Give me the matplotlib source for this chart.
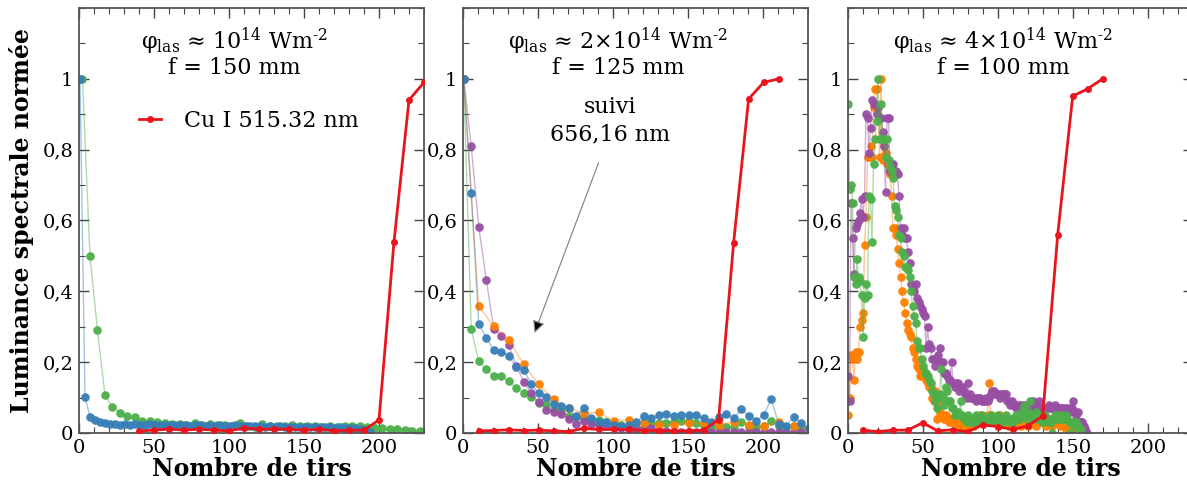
import numpy as np
import matplotlib
matplotlib.use('Agg')
import matplotlib.pyplot as plt
from matplotlib.ticker import MultipleLocator

plt.rcParams['font.family'] = 'DejaVu Serif'
plt.rcParams['mathtext.fontset'] = 'dejavuserif'

# Set1-like colours
c_red = '#e8161c'
c_blue = '#377eb8'
c_green = '#4daf4a'
c_purple = '#984ea3'
c_orange = '#ff7f00'

# ---- panel 1 : 1e14 W/m2, f = 150 mm ----
p1_blue_x = 0.67 + 3.333 * np.arange(59)
p1_blue = [1.0, 0.103, 0.044, 0.037, 0.032, 0.027, 0.025, 0.026, 0.024, 0.026,
           0.024, 0.025, 0.024, 0.023, 0.025, 0.024, 0.023, 0.024, 0.022, 0.023,
           0.022, 0.023, 0.021, 0.022, 0.023, 0.021, 0.022, 0.021, 0.022, 0.020,
           0.021, 0.022, 0.020, 0.019, 0.020, 0.019, 0.020, 0.018, 0.019, 0.018,
           0.019, 0.018, 0.017, 0.018, 0.017, 0.018, 0.017, 0.016, 0.017, 0.016,
           0.016, 0.015, 0.016, 0.015, 0.014, 0.013, 0.011, 0.008, 0.003]
p1_green_x = 2.3 + 5 * np.arange(46)
p1_green = [1.0, 0.5, 0.29, 0.107, 0.074, 0.056, 0.048, 0.044, 0.035, 0.033,
            0.032, 0.028, 0.025, 0.026, 0.024, 0.027, 0.022, 0.025, 0.024, 0.022,
            0.02, 0.028, 0.02, 0.018, 0.025, 0.02, 0.019, 0.02, 0.022, 0.02,
            0.019, 0.02, 0.018, 0.019, 0.018, 0.02, 0.019, 0.02, 0.017, 0.013,
            0.014, 0.010, 0.011, 0.008, 0.007, 0.007]
p1_red_x = 40 + 10 * np.arange(20)
p1_red = [0.006, 0.008, 0.011, 0.008, 0.011, 0.008, 0.006, 0.014, 0.011, 0.011,
          0.011, 0.008, 0.011, 0.006, 0.008, 0.008, 0.037, 0.54, 0.94, 0.99]

# ---- panel 2 : 2e14 W/m2, f = 125 mm ----
p2_x = 0.5 + 5 * np.arange(47)
p2_blue = [1.0, 0.677, 0.308, 0.268, 0.235, 0.23, 0.218, 0.185, 0.178, 0.138,
           0.112, 0.101, 0.081, 0.075, 0.071, 0.048, 0.072, 0.042, 0.032, 0.03,
           0.022, 0.02, 0.022, 0.032, 0.048, 0.042, 0.052, 0.053, 0.048, 0.05,
           0.052, 0.052, 0.041, 0.032, 0.046, 0.053, 0.041, 0.067, 0.048, 0.034,
           0.052, 0.095, 0.025, 0.02, 0.046, 0.027, 0.013]
p2_green = [1.0, 0.294, 0.202, 0.18, 0.16, 0.161, 0.147, 0.128, 0.113, 0.101,
            0.084, 0.081, 0.065, 0.062, 0.049, 0.045, 0.043, 0.036, 0.036, 0.031,
            0.028, 0.023, 0.02, 0.017, 0.032, 0.027, 0.027, 0.027, 0.032, 0.034,
            0.034, 0.027, 0.019, 0.015, 0.02, 0.017, 0.017, 0.032, 0.017, 0.017,
            0.019, 0.034, 0.02, 0.017, 0.019, 0.017, 0.013]
p2_purple = [1.0, 0.809, 0.582, 0.433, 0.294, 0.275, 0.249, 0.19, 0.145, 0.112,
             0.088, 0.066, 0.06, 0.053, 0.04, 0.025, 0.035, 0.025, 0.023, 0.02,
             0.016, 0.015, 0.012, 0.012, 0.013, 0.013, 0.008, 0.006, 0.004, 0.003,
             0.004, 0.003, 0.003, 0.004, 0.003, 0.003, 0.003, 0.004, 0.003, 0.003,
             0.003, 0.003, 0.003, 0.003, 0.003, 0.003, 0.003]
p2_orange_x = 0.4 + 10 * np.arange(24)
p2_orange = [1.0, 0.36, 0.301, 0.263, 0.194, 0.137, 0.095, 0.07, 0.056, 0.058,
             0.035, 0.037, 0.028, 0.024, 0.024, 0.027, 0.027, 0.024, 0.031, 0.024,
             0.019, 0.031, 0.02, 0.012]
p2_red_x = 10.4 + 10 * np.arange(21)
p2_red = [0.006, 0.007, 0.009, 0.007, 0.008, 0.006, 0.004, 0.013, 0.01, 0.01,
          0.01, 0.007, 0.007, 0.006, 0.006, 0.008, 0.038, 0.537, 0.943, 0.99, 1.0]

# ---- panel 3 : 4e14 W/m2, f = 100 mm ----
p3_purple = [0.16, 0.09, 0.65, 0.55, 0.45, 0.58, 0.59, 0.60, 0.62, 0.66,
             0.61, 0.67, 0.90, 0.89, 0.79, 0.86, 0.94, 0.93, 0.93, 0.90,
             0.92, 0.89, 0.89, 0.85, 0.81, 0.68, 0.89, 0.89, 0.74, 0.76,
             0.76, 0.73, 0.74, 0.73, 0.67, 0.58, 0.56, 0.58, 0.55, 0.55,
             0.51, 0.48, 0.42, 0.41, 0.40, 0.42, 0.38, 0.37, 0.36, 0.35,
             0.34, 0.33, 0.24, 0.30, 0.25, 0.24, 0.21, 0.21, 0.19, 0.21,
             0.22, 0.24, 0.20, 0.20, 0.17, 0.17, 0.16, 0.15, 0.15, 0.20,
             0.14, 0.13, 0.14, 0.14, 0.12, 0.13, 0.13, 0.12, 0.11, 0.10,
             0.14, 0.11, 0.10, 0.10, 0.10, 0.09, 0.10, 0.10, 0.10, 0.09,
             0.09, 0.09, 0.10, 0.09, 0.10, 0.11, 0.12, 0.12, 0.11, 0.11,
             0.11, 0.10, 0.11, 0.11, 0.11, 0.11, 0.09, 0.09, 0.08, 0.09,
             0.08, 0.08, 0.07, 0.08, 0.07, 0.08, 0.07, 0.08, 0.07, 0.07,
             0.08, 0.08, 0.07, 0.09, 0.07, 0.08, 0.07, 0.09, 0.07, 0.07,
             0.06, 0.07, 0.07, 0.07, 0.08, 0.07, 0.07, 0.07, 0.08, 0.07,
             0.07, 0.07, 0.07, 0.07, 0.06, 0.07, 0.06, 0.07, 0.06, 0.07,
             0.09, 0.06, 0.05, 0.06, 0.03, 0.03, 0.03, 0.02, 0.01, 0.0]
p3_orange = [0.05, 0.10, 0.22, 0.21, 0.15, 0.23, 0.21, 0.23, 0.30, 0.32,
             0.34, 0.53, 0.61, 0.78, 0.78, 0.81, 0.78, 0.92, 0.97, 0.97,
             0.92, 0.78, 1.00, 0.77, 0.81, 0.79, 0.76, 0.74, 0.73, 0.67,
             0.58, 0.58, 0.56, 0.52, 0.48, 0.44, 0.40, 0.37, 0.34, 0.31,
             0.29, 0.28, 0.27, 0.24, 0.23, 0.21, 0.19, 0.18, 0.16, 0.17,
             0.18, 0.16, 0.15, 0.14, 0.13, 0.13, 0.10, 0.09, 0.12, 0.04,
             0.08, 0.06, 0.05, 0.05, 0.04, 0.05, 0.04, 0.03, 0.04, 0.03,
             0.03, 0.04, 0.03, 0.03, 0.02, 0.03, 0.03, 0.02, 0.03, 0.03,
             0.02, 0.03, 0.04, 0.03, 0.02, 0.04, 0.03, 0.04, 0.05, 0.03,
             0.04, 0.03, 0.04, 0.05, 0.14, 0.05, 0.04, 0.03, 0.04, 0.03,
             0.04, 0.05, 0.03, 0.04, 0.03, 0.04, 0.03, 0.02, 0.03, 0.04,
             0.03, 0.02, 0.03, 0.04, 0.03, 0.02, 0.03, 0.03, 0.04, 0.03,
             0.02, 0.03, 0.04, 0.03, 0.03, 0.02, 0.03, 0.04, 0.03, 0.03,
             0.04, 0.03, 0.02, 0.03, 0.04, 0.03, 0.02, 0.03, 0.04, 0.03,
             0.03, 0.02, 0.03, 0.03, 0.02, 0.01, 0.02, 0.03, 0.02, 0.01,
             0.01]
p3_green = [0.93, 0.69, 0.70, 0.65, 0.44, 0.42, 0.49, 0.44, 0.43, 0.39,
            0.27, 0.38, 0.42, 0.39, 0.67, 0.66, 0.54, 0.76, 0.83, 0.88,
            1.00, 0.83, 0.93, 0.83, 0.83, 0.78, 0.83, 0.77, 0.75, 0.74,
            0.72, 0.64, 0.63, 0.61, 0.56, 0.55, 0.51, 0.50, 0.47, 0.47,
            0.46, 0.44, 0.40, 0.36, 0.33, 0.31, 0.26, 0.24, 0.24, 0.21,
            0.19, 0.17, 0.17, 0.16, 0.15, 0.14, 0.12, 0.11, 0.09, 0.07,
            0.10, 0.11, 0.18, 0.10, 0.08, 0.13, 0.12, 0.09, 0.09, 0.07,
            0.07, 0.05, 0.05, 0.06, 0.05, 0.09, 0.05, 0.04, 0.04, 0.03,
            0.05, 0.04, 0.03, 0.04, 0.03, 0.05, 0.04, 0.03, 0.04, 0.05,
            0.04, 0.03, 0.04, 0.04, 0.03, 0.05, 0.04, 0.04, 0.03, 0.04,
            0.05, 0.04, 0.04, 0.03, 0.04, 0.05, 0.04, 0.03, 0.04, 0.04,
            0.03, 0.04, 0.05, 0.04, 0.04, 0.05, 0.06, 0.075, 0.05, 0.04,
            0.06, 0.09, 0.05, 0.04, 0.05, 0.06, 0.04, 0.05, 0.04, 0.03,
            0.04, 0.05, 0.04, 0.03, 0.04, 0.03, 0.00, 0.04, 0.05, 0.04,
            0.05, 0.04, 0.05, 0.04, 0.04, 0.05, 0.04, 0.03, 0.00, 0.03,
            0.03, 0.02, 0.03, 0.02, 0.01, 0.01]
p3_red_x = 9.8 + 10 * np.arange(17)
p3_red = [0.008, 0.004, 0.008, 0.008, 0.029, 0.006, 0.009, 0.004, 0.023, 0.018,
          0.01, 0.02, 0.048, 0.56, 0.951, 0.972, 1.0]

titles = ['φ$_{\\mathrm{las}}$ ≈ 10$^{14}$ Wm$^{\u2010 2}$\nf = 150 mm',
          'φ$_{\\mathrm{las}}$ ≈ 2×10$^{14}$ Wm$^{\u2010 2}$\nf = 125 mm',
          'φ$_{\\mathrm{las}}$ ≈ 4×10$^{14}$ Wm$^{\u2010 2}$\nf = 100 mm']
ytick_vals = [0, 0.2, 0.4, 0.6, 0.8, 1.0]
ytick_labels = ['0', '0,2', '0,4', '0,6', '0,8', '1']


def dots(ax, x, y, color):
    # faint connecting line + solid dots
    ax.plot(x, y, '-', color=color, lw=1, alpha=0.45)
    ax.plot(x, y, 'o', color=color, ms=6.2, mec='none', alpha=0.95)


def red_line(ax, x, y, label=None):
    ax.plot(x, y, '-o', color=c_red, lw=2, ms=5, mec='none', label=label, zorder=5)


fig = plt.figure(figsize=(11.87, 4.88), dpi=100)
W = 345 / 1187
H = 425 / 488
B = 55 / 488
lefts = [79 / 1187, 463 / 1187, 848 / 1187]
axs = [fig.add_axes([l, B, W, H]) for l in lefts]

for i, ax in enumerate(axs):
    ax.set_xlim(0, 230)
    ax.set_ylim(0, 1.2)
    ax.xaxis.set_major_locator(MultipleLocator(50))
    ax.xaxis.set_minor_locator(MultipleLocator(10))
    ax.set_yticks(ytick_vals)
    ax.set_yticklabels(ytick_labels)
    ax.yaxis.set_minor_locator(MultipleLocator(0.1))
    ax.tick_params(which='both', direction='in', top=True, right=True,
                   colors='#444444', labelcolor='black', labelsize=14, pad=4)
    ax.tick_params(which='major', length=7, width=1)
    ax.tick_params(which='minor', length=4, width=0.8)
    for s in ax.spines.values():
        s.set_color('#555555')
        s.set_linewidth(1.3)
    ax.set_xlabel('Nombre de tirs', fontsize=17, fontweight='bold', labelpad=0)
    ax.text(0.45, 0.895, titles[i], transform=ax.transAxes, ha='center', va='center',
            fontsize=16, linespacing=1.0)

# panel 1
dots(axs[0], p1_green_x, p1_green, c_green)
dots(axs[0], p1_blue_x, p1_blue, c_blue)
red_line(axs[0], p1_red_x, p1_red, label='Cu I 515.32 nm')
axs[0].legend(loc='center left', bbox_to_anchor=(0.142, 0.734), frameon=False,
              fontsize=16, handlelength=1.0, handletextpad=1.0, borderpad=0)
axs[0].set_ylabel('Luminance spectrale normée', fontsize=17, fontweight='bold', labelpad=6)

# panel 2
dots(axs[1], p2_x, p2_green, c_green)
dots(axs[1], p2_x, p2_purple, c_purple)
dots(axs[1], p2_orange_x, p2_orange, c_orange)
dots(axs[1], p2_x, p2_blue, c_blue)
red_line(axs[1], p2_red_x, p2_red)
axs[1].text(0.426, 0.735, 'suivi\n656,16 nm', transform=axs[1].transAxes,
            ha='center', va='center', fontsize=16, linespacing=1.3)
axs[1].annotate('', xy=(47, 0.275), xytext=(91, 0.77),
                arrowprops=dict(arrowstyle='-|>', ec='#888888', fc='black',
                                lw=0.9, mutation_scale=18))

# panel 3
x3 = np.arange(160)
dots(axs[2], x3[:len(p3_orange)], p3_orange, c_orange)
dots(axs[2], x3[:len(p3_purple)], p3_purple, c_purple)
dots(axs[2], x3[:len(p3_green)], p3_green, c_green)
red_line(axs[2], p3_red_x, p3_red)

fig.savefig('out.png', dpi=100)
